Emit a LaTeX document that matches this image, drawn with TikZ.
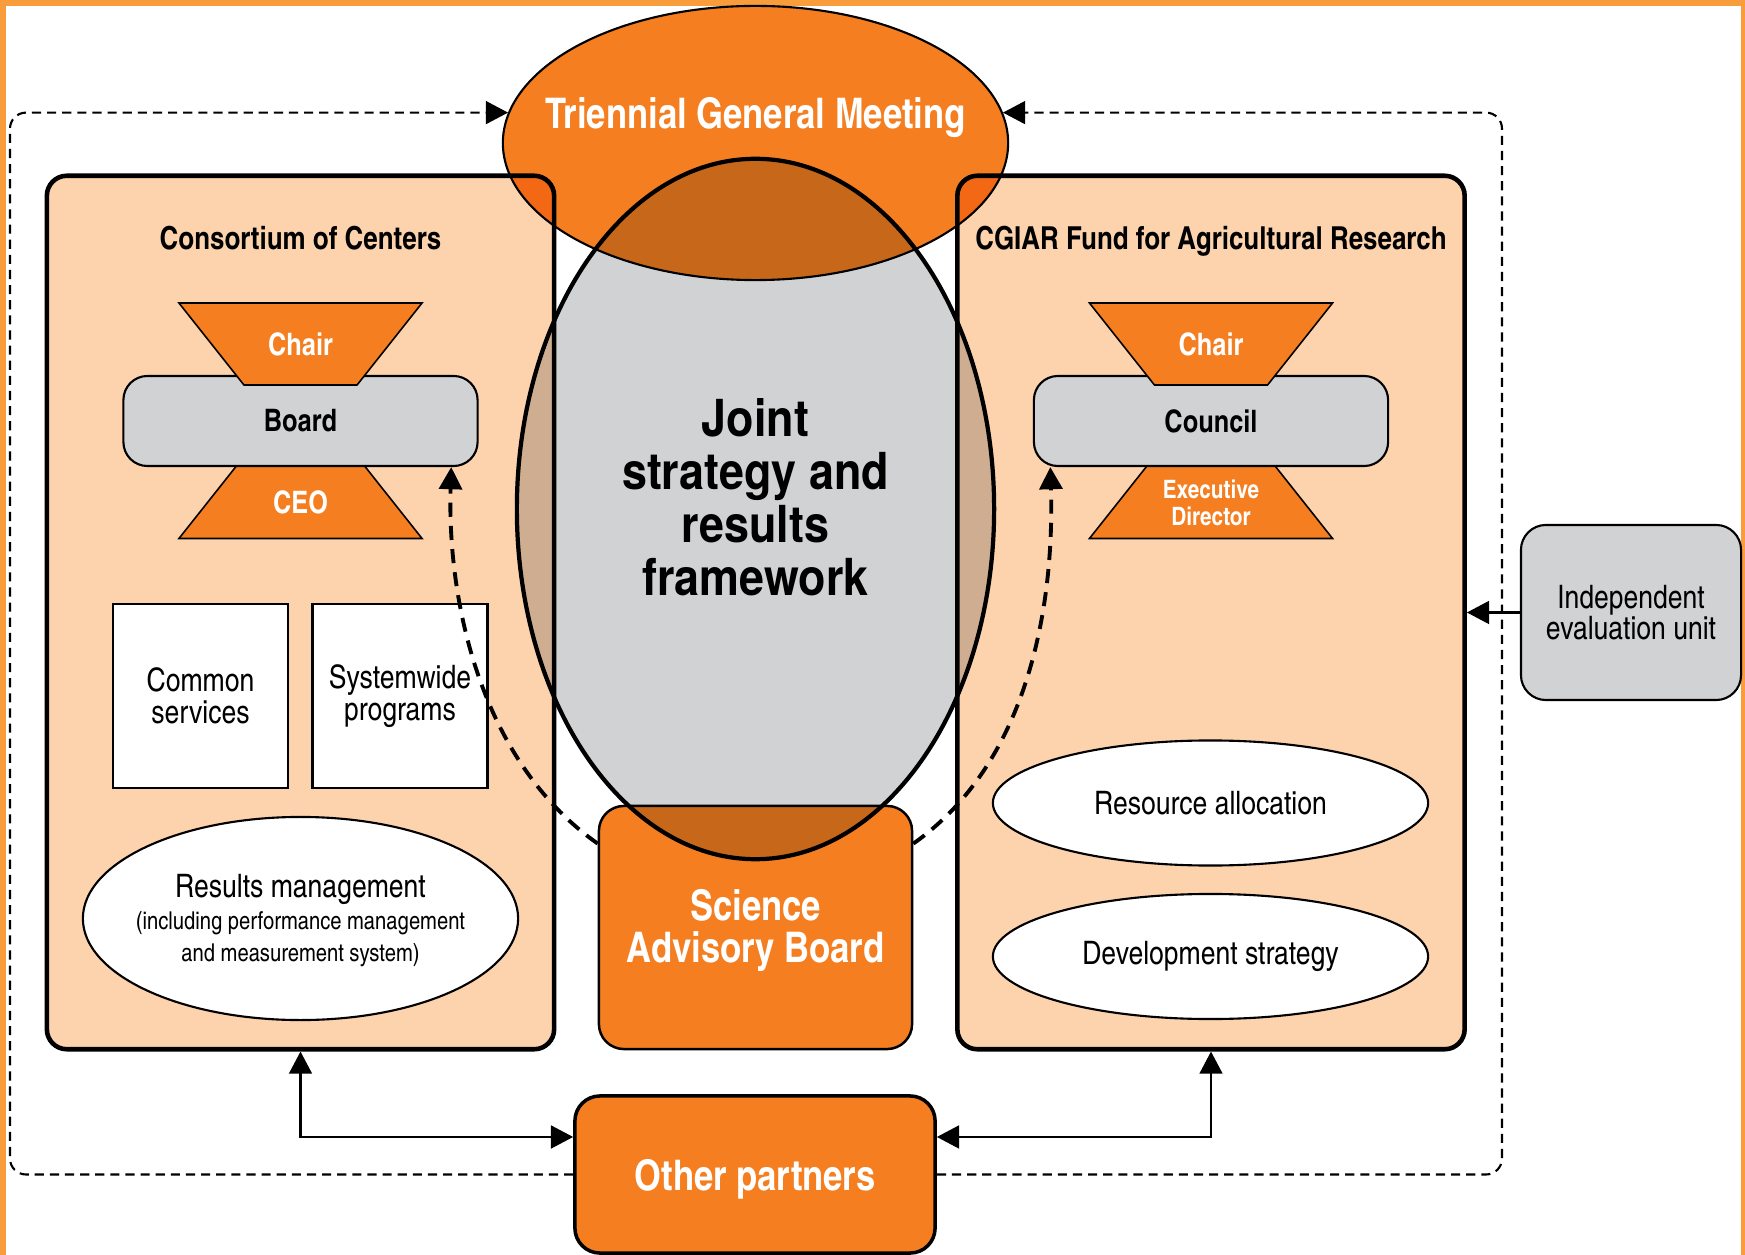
\documentclass[tikz,border=0pt]{standalone}
\usepackage{fontspec}
\usetikzlibrary{shapes.geometric,arrows.meta}
\newfontfamily\cn{texgyreheroscn}[Extension=.otf,UprightFont=*-regular,BoldFont=*-bold]
\newfontfamily\hv{texgyreheros}[Extension=.otf,UprightFont=*-regular,BoldFont=*-bold,FakeStretch=0.88]
\newcommand\subtext{\fontsize{7}{9}\selectfont}
\definecolor{cgorange}{HTML}{F47E20}
\definecolor{cgpeach}{HTML}{FDD3AE}
\definecolor{cggray}{HTML}{D1D2D4}
\definecolor{cgframe}{HTML}{F89C3C}

\begin{document}
\begin{tikzpicture}[x=0.01cm,y=-0.01cm,
    >={Triangle[length=6.3pt,width=6.5pt]},
    panel/.style={draw,line width=1.3pt,fill=cgpeach,rounded corners=0.2cm,
      minimum width=5.07cm,minimum height=8.73cm},
    hat/.style={trapezium,trapezium angle=51.6,trapezium stretches body,
      draw,line width=0.45pt,fill=cgorange,inner xsep=0pt,inner ysep=0.41cm,
      minimum width=2.43cm},
    hattext/.style={text=white,font=\cn\bfseries\fontsize{8.8}{9}\selectfont},
    bar/.style={draw,line width=0.6pt,fill=cggray,rounded corners=0.24cm,
      minimum width=3.54cm,minimum height=0.9cm,
      font=\cn\bfseries\fontsize{8.8}{9}\selectfont},
    txt/.style={font=\cn\fontsize{9.2}{9}\selectfont,align=center},
    whitebox/.style={txt,draw,line width=0.7pt,fill=white,
      minimum width=1.75cm,minimum height=1.84cm},
    oval/.style={txt,ellipse,draw,line width=0.6pt,fill=white,
      minimum width=4.35cm,inner sep=0pt},
    heading/.style={font=\cn\bfseries\fontsize{9}{9}\selectfont,anchor=base},
    big/.style={font=\cn\bfseries\fontsize{12}{11.9}\selectfont,text=white,align=center},
    orangebox/.style={draw,fill=cgorange,rounded corners=0.25cm},
    loopline/.style={->,line width=0.6pt,dash pattern=on 2.6pt off 1.7pt,rounded corners=0.16cm},
    curved/.style={->,line width=1.1pt,dash pattern=on 4pt off 2.6pt},
    link/.style={line width=0.6pt}]
  \useasboundingbox (0,0) rectangle (1745,1255);

  % frame
  \fill[cgframe] (0,0) rectangle (1745,6);
  \fill[cgframe] (0,0) rectangle (6,1255);
  \fill[cgframe] (1741,0) rectangle (1745,1255);

  % the two bodies
  \node[panel] (consortium) at (300.5,612.5) {};
  \node[panel] (fund) at (1211,612.5) {};

  % shapes that overlap get multiplied with what lies below
  \begin{scope}[blend mode=multiply]
    \node[ellipse,draw,line width=0.6pt,fill=cgorange,
      minimum width=5.05cm,minimum height=2.74cm] (tgm) at (755.5,143) {};
    \node[ellipse,draw,line width=1.2pt,fill=cggray,
      minimum width=4.77cm,minimum height=7cm] (joint) at (755.5,509) {};
    \node[orangebox,line width=0.7pt,minimum width=3.13cm,minimum height=2.43cm] (sab) at (755.5,927.5) {};
  \end{scope}

  \node[big,anchor=base] (tgmtext) at (755.5,129) {Triennial General Meeting};
  \node[font=\hv\bfseries\fontsize{14.5}{15.1}\selectfont,align=center] (jointtext) at (755.5,497)
    {Joint\\strategy and\\results\\framework};
  \node[big] (sabtext) at (755.5,930.5) {Science\\Advisory Board};

  % consortium of centers
  \node[heading] (constitle) at (300.5,250) {Consortium of Centers};
  \node[hat,label={[hattext,yshift=-0.045cm]center:CEO}] (ceo) at (300.5,497.5) {};
  \node[bar] (board) at (300.5,421) {Board};
  \node[hat,shape border rotate=180,label={[hattext]center:Chair}] (chairL) at (300.5,344) {};
  \node[whitebox] (common) at (200.5,696) {Common\\services};
  \node[whitebox] (systemwide) at (400,696) {Systemwide\\programs};
  \node[oval,minimum height=2.03cm,
    label={[txt,yshift=-0.02cm]center:Results management\\\subtext(including performance management\\\subtext and measurement system)}]
    (results) at (300.5,918.5) {};

  % fund
  \node[heading] (fundtitle) at (1211,250) {CGIAR Fund for Agricultural Research};
  \node[hat,label={[hattext,font=\cn\bfseries\fontsize{7.2}{7.7}\selectfont,align=center,yshift=-0.055cm]center:Executive\\Director}]
    (ed) at (1211,497.5) {};
  \node[bar] (council) at (1211,421) {Council};
  \node[hat,shape border rotate=180,label={[hattext]center:Chair}] (chairR) at (1211,344) {};
  \node[oval,minimum height=1.25cm] (resource) at (1210.5,803) {Resource allocation};
  \node[oval,minimum height=1.25cm] (devstrat) at (1210.5,956.5) {Development strategy};

  \node[orangebox,line width=1pt,minimum width=3.6cm,minimum height=1.57cm,
    label={[big,yshift=-0.045cm]center:Other partners}] (partners) at (755,1174.5) {};
  \node[txt,draw,line width=0.6pt,fill=cggray,rounded corners=0.25cm,
    minimum width=2.2cm,minimum height=1.75cm] (indep) at (1631,612.5) {Independent\\evaluation unit};

  % connectors
  \coordinate (lx) at (10,0);
  \coordinate (rx) at (1502,0);
  \draw[loopline] (partners.west) -| (lx |- tgm.173) -- (tgm.173);
  \draw[loopline] (partners.east) -| (rx |- tgm.7) -- (tgm.7);
  \draw[curved] (sab.152) .. controls +(-118,-83) and +(-4,132) .. (board.343.7);
  \draw[curved] (sab.28) .. controls +(118,-83) and +(4,132) .. (council.196.3);
  \draw[link,<->] (consortium.south) |- ([yshift=0.375cm]partners.west);
  \draw[link,<->] (fund.south) |- ([yshift=0.375cm]partners.east);
  \draw[link,->] (indep.west) -- (indep.west -| fund.east);
\end{tikzpicture}
\end{document}
